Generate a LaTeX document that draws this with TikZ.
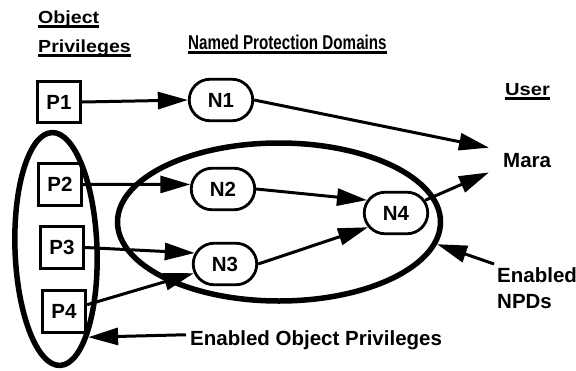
\documentclass[tikz,border=0pt]{standalone}
\usepackage{fontspec}
\setmainfont{Liberation Sans}
\usepackage{graphicx}
\usetikzlibrary{arrows.meta,shapes.geometric,shapes.misc}
\begin{document}
\begin{tikzpicture}[x=1pt,y=-1pt,
  every node/.style={font=\fontsize{20.5}{26}\selectfont\bfseries},
  pbox/.style={draw, line width=2.8pt, minimum width=43.5pt, minimum height=41.5pt, inner sep=0pt},
  npdbox/.style={draw, rounded rectangle, line width=2.8pt, minimum width=63.5pt, minimum height=41.5pt, inner sep=0pt},
  conn/.style={line width=3pt, -{Triangle[length=30pt,width=17pt]}},
  ring/.style={draw, ellipse, line width=5.5pt, inner sep=0pt},
  title/.style={inner sep=0pt, anchor=base west, font=\fontsize{17.5}{20}\selectfont\bfseries},
  ul/.style={line width=2.3pt}]
\useasboundingbox (0,0) rectangle (576,370);

% titles
\node[title] (t1) at (38,23) {\scalebox{1.12}[1]{Object}};
\node[title] (t2) at (38,52) {\scalebox{1.12}[1]{Privileges}};
\node[title, font=\fontsize{20}{22}\selectfont\bfseries] (t3) at (188,49) {\scalebox{0.76}[1]{Named Protection Domains}};
\node[title] (t4) at (505,95) {\scalebox{1.15}[1]{User}};
\foreach \t in {t1,t2,t3,t4}
  \draw[ul] ([yshift=-3.5pt]\t.base west) -- ([yshift=-3.5pt]\t.base east);

% enclosing ellipses
\node[ring, minimum width=82pt, minimum height=233pt, rotate=2] (E0) at (56,249) {};
\node[ring, minimum width=323pt, minimum height=158pt] (E1) at (279,222) {};

% privileges
\node[pbox] (P1) at (59,102) {P1};
\node[pbox] (P2) at (60,184.5) {P2};
\node[pbox] (P3) at (62,247.5) {P3};
\node[pbox] (P4) at (64,311.5) {P4};

% named protection domains
\node[npdbox] (N1) at (221,100) {N1};
\node[npdbox] (N2) at (223,189) {N2};
\node[npdbox] (N3) at (225,264) {N3};
\node[npdbox] (N4) at (396,213) {N4};

% labels
\node[inner xsep=14pt, inner ysep=5pt, anchor=base west] (mara) at (489,167) {Mara};
\node[align=left, anchor=north west, inner sep=3pt] (en) at (494,264) {Enabled\\NPDs};
\node[anchor=base west, inner xsep=4pt, inner ysep=2pt] (eop) at (186,345) {Enabled Object Privileges};

% connectors
\draw[conn] (P1.east) -- (N1.west);
\draw[conn] (N1.east) -- (mara.north west);
\draw[conn] (P2.east) -- (N2.172);
\draw[conn] (P3.east) -- (N3.160);
\draw[conn] (P4) -- (N3);
\draw[conn] (N2.east) -- (N4.156);
\draw[conn] (N3.east) -- (N4.207);
\draw[conn] (N4) -- (mara.south west);
\draw[conn] (en.north west) -- (E1.-8);
\draw[conn] ([yshift=5pt]eop.west) -- (E0.-72);
\end{tikzpicture}
\end{document}
